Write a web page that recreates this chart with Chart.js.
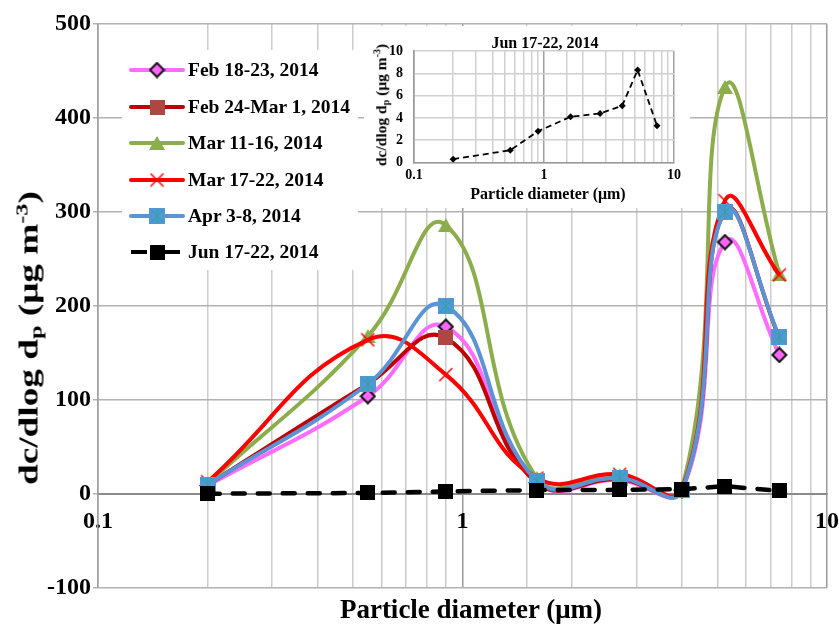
<!DOCTYPE html>
<html><head><meta charset="utf-8">
<script src="https://cdn.jsdelivr.net/npm/chart.js@4.4.0/dist/chart.umd.min.js"></script>
<style>
html,body{margin:0;padding:0;background:#fff;}
#wrap{position:relative;width:839px;height:624px;overflow:hidden;font-family:"Liberation Serif","Times New Roman",serif;font-weight:bold;color:#000;}
#main{position:absolute;left:0;top:0;}
#insetBox{position:absolute;left:364px;top:26px;width:326px;height:182px;background:#fff;}
#inset{position:absolute;left:0;top:0;}
.t{position:absolute;white-space:nowrap;line-height:1;}
.rot{transform:translate(-50%,-50%) rotate(-90deg);}
.rotS{transform:translate(-50%,-50%) rotate(-90deg) scaleX(1.38);}
.ctr{transform:translate(-50%,-50%);}
sub{font-size:65%;vertical-align:-0.25em;line-height:0;}
sup{font-size:65%;vertical-align:0.55em;line-height:0;}
.leg{position:absolute;left:188px;font-size:19.5px;line-height:1;transform:translateY(-50%);white-space:nowrap;}
</style></head>
<body>
<div id="wrap">
<canvas id="main" width="839" height="624"></canvas>
<div class="t rotS" style="left:29px;top:338px;font-size:27px;">dc/dlog d<sub>p</sub> (μg m<sup>-3</sup>)</div>
<div class="t ctr" style="left:471px;top:609px;font-size:27px;">Particle diameter (μm)</div>
<div id="legendLabels"></div>
<div id="insetBox"><canvas id="inset" width="326" height="182"></canvas>
<div class="t ctr" style="left:181px;top:17px;font-size:16px;">Jun 17-22, 2014</div>
<div class="t rot" style="left:17px;top:79px;font-size:15.5px;">dc/dlog d<sub>p</sub> (μg m<sup>-3</sup>)</div>
<div class="t ctr" style="left:184px;top:168px;font-size:16px;">Particle diameter (μm)</div>
</div>
</div>
<script>
// ---- data ----
const diameters = [0.2, 0.55, 0.9, 1.6, 2.7, 4.0, 5.25, 7.4];
const seriesLabels = ['Feb 18-23, 2014', 'Feb 24-Mar 1, 2014', 'Mar 11-16, 2014', 'Mar 17-22, 2014', 'Apr 3-8, 2014', 'Jun 17-22, 2014'];
const feb18_23 = [9, 104, 178, 12, 15, 4, 268, 148];
const feb24_mar1 = [10, 117, 166, 12, 16, 5, 301, 166];
const mar11_16 = [11, 168, 286, 17, 20, 6, 433, 234];
const mar17_22 = [13, 164, 127, 17, 21, 5, 312, 233];
const apr3_8 = [10, 117, 200, 14, 17, 4, 300, 167];
const jun17_22 = [0.3, 1.1, 2.8, 4.1, 4.4, 5.1, 8.3, 3.3];
const majorXTicks = [0.1, 1, 10];
const mainYRange = [-100, 500, 100];
const insetYRange = [0, 10, 2];
const insetTitle = 'Jun 17-22, 2014';

// ---- markers ----
function mk(w, h, fn) { const c = document.createElement('canvas'); c.width = w; c.height = h; fn(c.getContext('2d'), w, h); return c; }
const mDiamond = mk(17, 17, g => { g.beginPath(); g.moveTo(8.5,1.5); g.lineTo(15.5,8.5); g.lineTo(8.5,15.5); g.lineTo(1.5,8.5); g.closePath(); g.fillStyle='#FF66FF'; g.fill(); g.lineWidth=2; g.strokeStyle='#111'; g.stroke(); });
const mSqRed = mk(15, 15, g => { g.fillStyle='#AD4744'; g.fillRect(0,0,15,15); });
const mTri = mk(16, 14, g => { g.beginPath(); g.moveTo(8,0); g.lineTo(16,14); g.lineTo(0,14); g.closePath(); g.fillStyle='#8BAD4C'; g.fill(); });
const mX = mk(15, 15, g => { g.strokeStyle='#FF0000'; g.lineWidth=1.5; g.beginPath(); g.moveTo(1,1); g.lineTo(14,14); g.moveTo(14,1); g.lineTo(1,14); g.stroke(); });
const mBlue = mk(16, 16, g => { g.fillStyle='#4E98D3'; g.fillRect(0,0,16,16); g.strokeStyle='#2FA39A'; g.lineWidth=1; g.beginPath(); g.moveTo(2,2); g.lineTo(14,14); g.moveTo(14,2); g.lineTo(2,14); g.moveTo(8,1); g.lineTo(8,15); g.stroke(); });
const mBlack = mk(15, 15, g => { g.fillStyle='#000'; g.fillRect(0,0,15,15); });

const pts = arr => diameters.map((x, i) => ({x: x, y: arr[i]}));
const isMajor = v => v != null && Math.abs(Math.log10(v) - Math.round(Math.log10(v))) < 1e-6;

const styles = [
  {color:'#FF6CFF', marker:mDiamond},
  {color:'#C00000', marker:mSqRed},
  {color:'#8BAD4C', marker:mTri},
  {color:'#FF0000', marker:mX},
  {color:'#5B93D5', marker:mBlue},
  {color:'#000000', marker:mBlack, dash:[12,13]}
];
const values = [feb18_23, feb24_mar1, mar11_16, mar17_22, apr3_8, jun17_22];

const datasets = values.map((arr, i) => ({
  label: seriesLabels[i],
  data: pts(arr),
  borderColor: styles[i].color,
  backgroundColor: styles[i].color,
  borderWidth: i === 5 ? 4.5 : 4,
  borderDash: styles[i].dash || [],
  borderCapStyle: i === 5 ? 'round' : 'butt',
  tension: i === 5 ? 0 : 0.45,
  pointStyle: styles[i].marker,
  pointRadius: 6,
  fill: false,
  order: 5 - i
}));

// legend rows
const legendRows = [70, 107, 143, 180, 216, 252];
const legLab = document.getElementById('legendLabels');
seriesLabels.forEach((s, i) => {
  const d = document.createElement('div'); d.className = 'leg'; d.style.top = legendRows[i] + 'px'; d.textContent = s; legLab.appendChild(d);
});

const legendPlugin = {
  id: 'boxLegend',
  beforeDatasetsDraw(chart) {
    const ctx = chart.ctx;
    ctx.save();
    ctx.fillStyle = '#fff';
    ctx.fillRect(122, 50, 236, 220);
    chart.data.datasets.forEach((ds, i) => {
      const y = legendRows[i];
      ctx.strokeStyle = ds.borderColor; ctx.lineWidth = 4; ctx.lineCap = i === 5 ? 'butt' : 'round';
      ctx.setLineDash(i === 5 ? [16, 17] : []);
      ctx.beginPath(); ctx.moveTo(131, y); ctx.lineTo(183, y); ctx.stroke();
      ctx.setLineDash([]);
      const m = ds.pointStyle;
      ctx.drawImage(m, 157 - m.width / 2, y - m.height / 2);
    });
    ctx.restore();
  }
};

const tickFont = {family: '"Liberation Serif", "Times New Roman", serif', weight: 'bold', size: 24};

new Chart(document.getElementById('main'), {
  type: 'line',
  data: {datasets: datasets},
  options: {
    responsive: false, animation: false,
    layout: {padding: {left: 0, right: 12, top: 24, bottom: 36}},
    plugins: {legend: {display: false}, tooltip: {enabled: false}, title: {display: false}},
    scales: {
      x: {
        type: 'logarithmic', min: 0.1, max: 10,
        position: {y: 0},
        ticks: {autoSkip: false, maxRotation: 0, padding: 13, color: '#000', font: tickFont,
          callback: v => majorXTicks.some(m => Math.abs(m - v) < 1e-9) ? String(v) : ''},
        grid: {drawTicks: false, lineWidth: 1.5, color: c => isMajor(c.tick && c.tick.value) ? '#9a9a9a' : '#cccccc'},
        border: {color: '#8a8a8a', width: 2},
        afterFit: s => { s.paddingLeft = 0; s.paddingRight = 0; }
      },
      y: {
        min: mainYRange[0], max: mainYRange[1],
        ticks: {stepSize: mainYRange[2], padding: 2, color: '#000', font: tickFont},
        grid: {lineWidth: 1.5, tickLength: 5, color: '#b2b2b2'},
        border: {color: '#a0a0a0', width: 1.5},
        afterFit: s => { s.width = 98; }
      }
    }
  },
  plugins: [legendPlugin]
});

const insetFont = {family: '"Liberation Serif", "Times New Roman", serif', weight: 'bold', size: 14};
new Chart(document.getElementById('inset'), {
  type: 'line',
  data: {datasets: [{
    label: insetTitle,
    data: pts(jun17_22),
    borderColor: '#000', backgroundColor: '#000', borderWidth: 1.8, borderDash: [6, 4],
    tension: 0, pointStyle: 'rectRot', pointRadius: 3.5, pointBorderWidth: 0, fill: false
  }]},
  options: {
    responsive: false, animation: false,
    layout: {padding: {left: 0, right: 16, top: 25, bottom: 15.5}},
    plugins: {legend: {display: false}, tooltip: {enabled: false}},
    scales: {
      x: {
        type: 'logarithmic', min: 0.1, max: 10,
        ticks: {autoSkip: false, maxRotation: 0, padding: 4, color: '#000', font: insetFont,
          callback: v => majorXTicks.some(m => Math.abs(m - v) < 1e-9) ? String(v) : ''},
        grid: {drawTicks: false, lineWidth: 1.5, color: c => isMajor(c.tick && c.tick.value) ? '#a0a0a0' : '#d0d0d0'},
        border: {color: '#999', width: 1.5},
        afterFit: s => { s.height = 30; s.paddingLeft = 0; s.paddingRight = 0; }
      },
      y: {
        min: insetYRange[0], max: insetYRange[1],
        ticks: {stepSize: insetYRange[2], padding: 11, color: '#000', font: insetFont},
        grid: {drawTicks: false, lineWidth: 1.5, color: '#d0d0d0'},
        border: {color: '#999', width: 1.5},
        afterFit: s => { s.width = 50; }
      }
    }
  }
});
</script>
</body></html>
